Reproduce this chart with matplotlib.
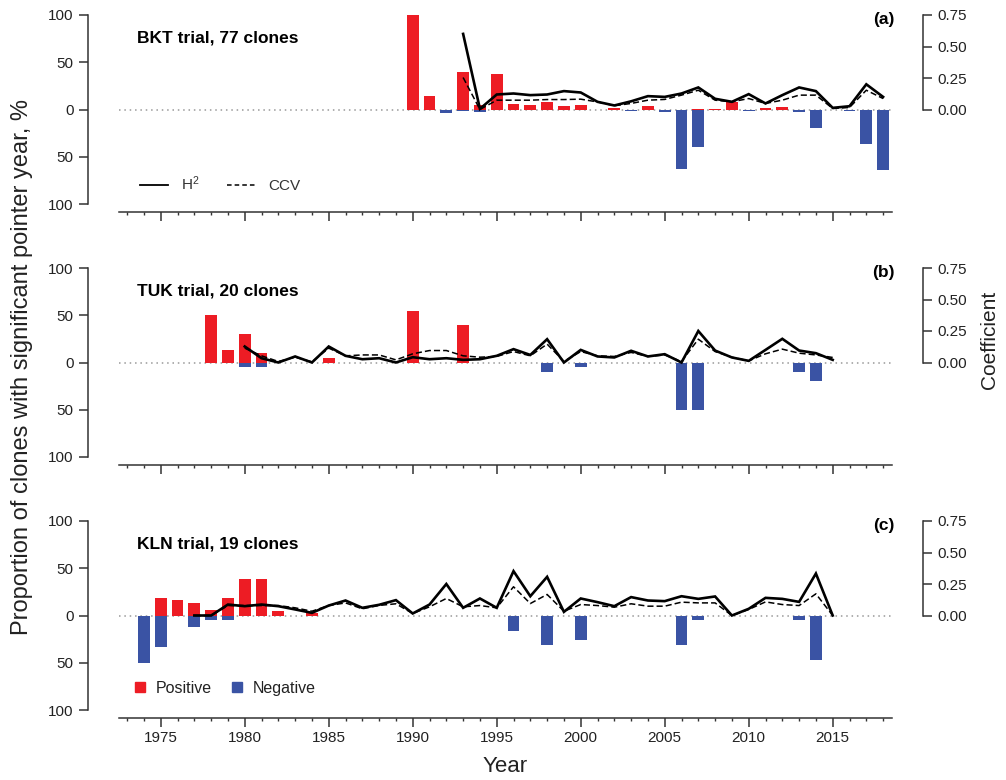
import matplotlib
matplotlib.use("Agg")
import matplotlib.pyplot as plt
from matplotlib.lines import Line2D
import numpy as np

plt.rcParams['font.family'] = ['Liberation Sans', 'DejaVu Sans']
plt.rcParams['mathtext.default'] = 'regular'

RED = '#ED1C24'
BLUE = '#3A53A4'
AXC = '#333333'

# ---- panel (a): BKT trial ----
bkt_bar_years = list(range(1990, 2019))
bkt_pos = [100, 14, 0, 40, 5, 38, 6, 5, 8, 4, 5, 0, 2, 0, 4, 0, 0, 1, 1, 8,
           0, 1.5, 2.5, 0, 0, 0, 0, 0, 0]
bkt_neg = [0, 0, -4, -2, -3, 0, 0, 0, 0, 0, 0, 0, 0, -2, 0, -3, -63, -40, -1, 0,
           -2, 0, 0, -3, -20, 0, -2, -37, -64]
bkt_line_years = list(range(1993, 2019))
bkt_h2 = [0.60, 0.005, 0.119, 0.127, 0.114, 0.119, 0.146, 0.135, 0.061, 0.032,
          0.065, 0.106, 0.10, 0.127, 0.175, 0.085, 0.061, 0.122, 0.048, 0.114,
          0.175, 0.146, 0.013, 0.026, 0.20, 0.10]
bkt_ccv = [0.254, 0.0, 0.074, 0.074, 0.074, 0.079, 0.079, 0.082, 0.06, 0.03,
           0.048, 0.074, 0.08, 0.114, 0.153, 0.074, 0.061, 0.087, 0.048, 0.074,
           0.114, 0.114, 0.008, 0.016, 0.153, 0.087]

# ---- panel (b): TUK trial ----
tuk_bar_years = list(range(1978, 2015))
tuk_pos = [50, 13, 30, 10, 0, 0, 0, 5, 0, 0, 0, 0, 55, 0, 0, 40, 0, 0, 0, 0,
           0, 0, 0, 0, 0, 0, 0, 0, 0, 0, 0, 0, 0, 0, 0, 0, 0]
tuk_neg = [0, 0, -5, -5, 0, 0, 0, 0, 0, 0, 0, 0, 0, 0, 0, 0, 0, 0, 0, 0,
           -10, 0, -5, 0, 0, 0, 0, 0, -50, -50, 0, 0, 0, 0, 0, -10, -20]
tuk_line_years = list(range(1980, 2016))
tuk_h2 = [0.127, 0.034, 0.0, 0.048, 0.0, 0.127, 0.053, 0.026, 0.034, 0.0,
          0.042, 0.026, 0.034, 0.021, 0.026, 0.053, 0.106, 0.06, 0.185, 0.0,
          0.10, 0.048, 0.04, 0.093, 0.048, 0.066, 0.0, 0.25, 0.095, 0.04,
          0.013, 0.10, 0.188, 0.095, 0.074, 0.021]
tuk_ccv = [0.114, 0.053, 0.008, 0.042, 0.005, 0.114, 0.053, 0.06, 0.06, 0.021,
           0.069, 0.095, 0.095, 0.053, 0.042, 0.048, 0.087, 0.053, 0.146, 0.008,
           0.087, 0.053, 0.048, 0.08, 0.048, 0.06, 0.008, 0.185, 0.087, 0.042,
           0.013, 0.069, 0.106, 0.074, 0.06, 0.04]

# ---- panel (c): KLN trial ----
kln_bar_years = list(range(1974, 2015))
kln_pos = [0, 18, 16, 13, 6, 18, 39, 39, 5, 0, 3, 0, 0, 0, 0, 0, 0, 0, 0, 0,
           0, 0, 0, 0, 0, 0, 0, 0, 0, 0, 0, 0, 0, 0, 0, 0, 0, 0, 0, 0, 0]
kln_neg = [-50, -33, 0, -12, -5, -5, 0, 0, 0, 0, 0, 0, 0, 0, 0, 0, 0, 0, 0, 0,
           0, 0, -16, 0, -31, 0, -26, 0, 0, 0, 0, 0, -31, -5, 0, 0, 0, 0, 0, -5, -47]
kln_line_years = list(range(1977, 2016))
kln_h2 = [0.0, 0.0, 0.087, 0.074, 0.087, 0.074, 0.048, 0.021, 0.079, 0.119,
          0.061, 0.085, 0.122, 0.016, 0.087, 0.25, 0.061, 0.135, 0.061, 0.352,
          0.153, 0.307, 0.029, 0.135, 0.106, 0.074, 0.146, 0.119, 0.114, 0.153,
          0.132, 0.151, 0.0, 0.053, 0.14, 0.132, 0.108, 0.333, 0.0]
kln_ccv = [0.0, 0.0, 0.079, 0.079, 0.079, 0.079, 0.061, 0.034, 0.079, 0.1,
           0.053, 0.08, 0.093, 0.016, 0.069, 0.135, 0.069, 0.079, 0.061, 0.228,
           0.095, 0.167, 0.034, 0.087, 0.079, 0.066, 0.093, 0.074, 0.074, 0.106,
           0.1, 0.1, 0.0, 0.048, 0.108, 0.087, 0.079, 0.172, 0.0]

panels = [
    ('BKT trial, 77 clones', '(a)', bkt_bar_years, bkt_pos, bkt_neg,
     bkt_line_years, bkt_h2, bkt_ccv),
    ('TUK trial, 20 clones', '(b)', tuk_bar_years, tuk_pos, tuk_neg,
     tuk_line_years, tuk_h2, tuk_ccv),
    ('KLN trial, 19 clones', '(c)', kln_bar_years, kln_pos, kln_neg,
     kln_line_years, kln_h2, kln_ccv),
]

W, H = 1006, 780
fig = plt.figure(figsize=(W / 100, H / 100), dpi=100)

left_px, right_px = 88, 923
tops = [15, 268, 521]
panel_h = 189
x0, x1 = 1970.67, 2020.375
narrow = ['Liberation Sans Narrow', 'Liberation Sans', 'DejaVu Sans']

for i, (title, tag, byears, pos, neg, lyears, h2, ccv) in enumerate(panels):
    top = tops[i]
    ax = fig.add_axes([left_px / W, 1 - (top + panel_h) / H,
                       (right_px - left_px) / W, panel_h / H])
    ax.set_xlim(x0, x1)
    ax.set_ylim(-100, 100)

    ax.plot([1972.5, 2018.5], [0, 0], color='#999999', lw=1.1,
            linestyle=(0, (1, 2.5)), zorder=1)
    ax.bar(byears, pos, width=0.7, color=RED, zorder=2)
    ax.bar(byears, neg, width=0.7, color=BLUE, zorder=2)

    for side in ['top', 'right']:
        ax.spines[side].set_visible(False)
    ax.spines['left'].set_bounds(-100, 100)
    ax.spines['bottom'].set_bounds(1972.5, 2018.5)
    ax.spines['bottom'].set_position(('outward', 5.8))
    for side in ['left', 'bottom']:
        ax.spines[side].set_color(AXC)
        ax.spines[side].set_linewidth(1.1)

    ax.set_yticks([-100, -50, 0, 50, 100])
    ax.set_yticklabels(['100', '50', '0', '50', '100'])
    ax.tick_params(axis='y', direction='out', length=6.5, width=1.1,
                   color=AXC, labelsize=11, labelcolor='#222222', pad=4)
    ax.set_xticks(np.arange(1975, 2016, 5))
    ax.set_xticks(np.arange(1973, 2019, 1), minor=True)
    ax.tick_params(axis='x', which='major', direction='out', length=6.5,
                   width=1.1, color=AXC, labelsize=11, labelcolor='#222222',
                   pad=3)
    ax.tick_params(axis='x', which='minor', direction='out', length=2,
                   width=1.0, color=AXC)
    if i < 2:
        ax.tick_params(axis='x', which='major', labelbottom=False)
    else:
        for lab in ax.get_xticklabels():
            lab.set_family(narrow)
        ax.set_xlabel('Year', fontsize=16, family=narrow, color='#222222',
                      labelpad=8)

    ax.text(1973.6, 76, title, fontsize=12.5, fontweight='bold',
            ha='left', va='center')
    ax.text(2018.7, 95, tag, fontsize=12.5, fontweight='bold',
            ha='right', va='center')

    # coefficients on the right-hand axis
    ax2 = ax.twinx()
    ax2.set_ylim(-0.75, 0.75)
    ax2.plot(lyears, ccv, color='black', lw=1.1, linestyle=(0, (4, 2)),
             zorder=3)
    ax2.plot(lyears, h2, color='black', lw=1.9, zorder=4,
             solid_joinstyle='miter')
    for side in ['top', 'left', 'bottom']:
        ax2.spines[side].set_visible(False)
    ax2.spines['right'].set_bounds(0, 0.75)
    ax2.spines['right'].set_color(AXC)
    ax2.spines['right'].set_linewidth(1.1)
    ax2.set_yticks([0, 0.25, 0.5, 0.75])
    ax2.set_yticklabels(['0.00', '0.25', '0.50', '0.75'])
    ax2.tick_params(axis='y', direction='out', length=6.5, width=1.1,
                    color=AXC, labelsize=11, labelcolor='#222222', pad=4)

    if i == 0:
        handles = [Line2D([], [], color='black', lw=1.3),
                   Line2D([], [], color='black', lw=1.1, linestyle=(0, (3, 2)))]
        ax.legend(handles, ['H$^2$', 'CCV'], ncol=2, loc='center left',
                  bbox_to_anchor=(0.0623, 0.106), frameon=False,
                  fontsize=11, labelcolor='#333333', handlelength=1.8,
                  handletextpad=0.9, columnspacing=1.8, borderpad=0,
                  borderaxespad=0)
    if i == 2:
        handles = [Line2D([], [], color=RED, marker='s', markersize=7.5,
                          linestyle='none'),
                   Line2D([], [], color=BLUE, marker='s', markersize=7.5,
                          linestyle='none')]
        ax.legend(handles, ['Positive', 'Negative'], ncol=2, loc='center left',
                  bbox_to_anchor=(0.055, 0.116), frameon=False,
                  fontsize=11.5, labelcolor='#222222', handlelength=0.8,
                  handletextpad=0.55, columnspacing=1.2, borderpad=0,
                  borderaxespad=0)

fig.text(22 / W, 1 - 367 / H,
         'Proportion of clones with significant pointer year, %',
         rotation=90, ha='center', va='center', fontsize=17, color='#222222')
fig.text(990 / W, 1 - 340 / H, 'Coefficient', rotation=90, ha='center',
         va='center', fontsize=15, color='#222222')

fig.savefig('out.png', dpi=100)
